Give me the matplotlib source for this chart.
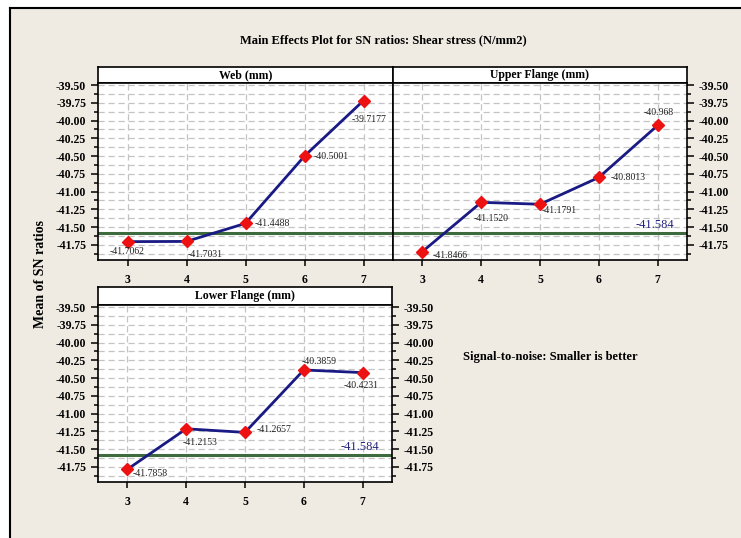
import numpy as np
import matplotlib
matplotlib.use("Agg")
import matplotlib.pyplot as plt
from matplotlib.patches import Rectangle
from matplotlib.lines import Line2D
from matplotlib.ticker import MultipleLocator, FormatStrFormatter

plt.rcParams['font.family'] = ['Liberation Serif', 'DejaVu Serif']

# data
levels = [3, 4, 5, 6, 7]
web = [-41.7062, -41.7031, -41.4488, -40.5001, -39.7177]
upper = [-41.8466, -41.1520, -41.1791, -40.8013, -40.068]
lower = [-41.7858, -41.2153, -41.2657, -40.3859, -40.4231]
web_labels = ["-41.7062", "-41.7031", "-41.4488", "-40.5001", "-39.7177"]
upper_labels = ["-41.8466", "-41.1520", "-41.1791", "-40.8013", "-40.968"]
lower_labels = ["-41.7858", "-41.2153", "-41.2657", "-40.3859", "-40.4231"]
grand_mean = -41.584
panel_titles = ["Web (mm)", "Upper Flange (mm)", "Lower Flange (mm)"]

W, H = 741, 538
BG = '#efebe2'
NAVY = '#1a1a85'
GREEN = '#3d6b3d'

fig = plt.figure(figsize=(W / 100, H / 100), dpi=100)
fig.patch.set_facecolor('white')
fig.add_artist(Rectangle((10 / W, 0), 1 - 10 / W, 1 - 8 / H, transform=fig.transFigure,
                         facecolor=BG, edgecolor='none', zorder=-5))
fig.add_artist(Line2D([10 / W, 1], [1 - 8 / H, 1 - 8 / H], transform=fig.transFigure, color='black', lw=1.5))
fig.add_artist(Line2D([10 / W, 10 / W], [0, 1 - 8 / H], transform=fig.transFigure, color='black', lw=1.5))


def px_axes(x0, y0, x1, y1):
    # pixel box (top-left origin) -> figure axes
    return fig.add_axes([x0 / W, 1 - y1 / H, (x1 - x0) / W, (y1 - y0) / H])


def panel(x0, x1, strip_top, top, bottom, title, vals, labels, offsets, left, right, show_mean_lbl):
    st = px_axes(x0, strip_top, x1, top)
    st.set_facecolor('white')
    st.set_xticks([])
    st.set_yticks([])
    for s in st.spines.values():
        s.set_linewidth(1.2)
    st.text(0.5, 0.5, title, ha='center', va='center', fontsize=8.5, fontweight='bold',
            transform=st.transAxes)

    ax = px_axes(x0, top, x1, bottom)
    ax.set_facecolor('white')
    ax.set_xlim(2.5, 7.5)
    ax.set_ylim(-41.965, -39.47)
    ax.set_xticks(levels)
    ax.yaxis.set_major_locator(MultipleLocator(0.25))
    ax.yaxis.set_minor_locator(MultipleLocator(0.125))
    ax.yaxis.set_major_formatter(FormatStrFormatter('%.2f'))
    for yv in np.arange(-41.875, -39.49, 0.125):
        ax.axhline(yv, color='#c4c4c4', lw=0.9, ls=(0, (5, 3)), zorder=0)
    for xv in levels:
        ax.axvline(xv, color='#c4c4c4', lw=0.9, ls=(0, (5, 3)), zorder=0)
    ax.axhline(grand_mean, color=GREEN, lw=2.2, zorder=2)
    ax.plot(levels, vals, color=NAVY, lw=2, zorder=3)
    ax.plot(levels, vals, ls='none', marker='D', ms=6, color='#ee1111', zorder=4)
    for xv, yv, lab, (dx, dy) in zip(levels, vals, labels, offsets):
        ax.annotate(lab, (xv, yv), xytext=(dx, dy), textcoords='offset pixels',
                    ha='left', va='center', fontsize=7, color='#222222', zorder=5)
    if show_mean_lbl:
        ax.text(7.28, grand_mean + 0.03, "-41.584", ha='right', va='bottom', fontsize=9,
                color='#22227f', zorder=5)
    ax.tick_params(axis='both', which='both', direction='out', labelsize=8.5, width=1.1)
    ax.tick_params(axis='y', which='major', length=5, left=left, labelleft=left,
                   right=right, labelright=right)
    ax.tick_params(axis='y', which='minor', length=3, left=left, right=right)
    ax.tick_params(axis='x', length=4, pad=6)
    for lab in ax.get_xticklabels() + ax.get_yticklabels():
        lab.set_fontweight('bold')
    for s in ax.spines.values():
        s.set_linewidth(1.2)
    return ax


panel(98, 393, 67, 83, 260, panel_titles[0], web, web_labels,
      [(-18, -10), (1, -13), (9, 0), (9, 0), (-12, -19)], True, False, False)
panel(393, 687, 67, 83, 260, panel_titles[1], upper, upper_labels,
      [(10, -4), (-8, -16), (2, -6), (12, 0), (-14, 13)], False, True, True)
panel(98, 392, 287, 305, 482, panel_titles[2], lower, lower_labels,
      [(5, -4), (-4, -14), (12, 3), (-2, 8), (-19, -13)], True, True, True)

fig.text(383 / W, 1 - 40 / H, "Main Effects Plot for SN ratios: Shear stress (N/mm2)",
         ha='center', va='center', fontsize=9, fontweight='bold')
fig.text(41 / W, 1 - 274 / H, "Mean of SN ratios", rotation=90, ha='center', va='center',
         fontsize=10, fontweight='bold')
fig.text(463 / W, 1 - 357 / H, "Signal-to-noise: Smaller is better", ha='left', va='center',
         fontsize=9, fontweight='bold')

fig.savefig("out.png", dpi=100, facecolor=fig.get_facecolor())
